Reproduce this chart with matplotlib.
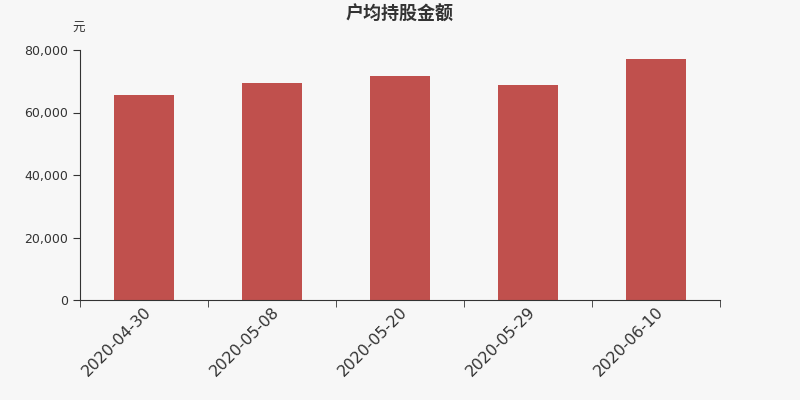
import numpy as np
import matplotlib.pyplot as plt
from matplotlib.ticker import FuncFormatter, FixedLocator

plt.rcParams['font.family'] = ['Noto Sans CJK SC', 'DejaVu Sans']

dates = ["2020-04-30", "2020-05-08", "2020-05-20", "2020-05-29", "2020-06-10"]
amounts = [65500, 69500, 71800, 68800, 77000]

bg = "#f7f7f7"
fig = plt.figure(figsize=(8, 4), dpi=100, facecolor=bg)
ax = fig.add_axes([0.1, 0.25, 0.8, 0.625], facecolor=bg)

x = np.arange(len(dates))
ax.bar(x, amounts, width=0.47, color="#c0504d")

ax.set_xlim(-0.5, len(dates) - 0.5)
ax.set_ylim(0, 80000)
ax.set_yticks([0, 20000, 40000, 60000, 80000])
ax.yaxis.set_major_formatter(FuncFormatter(lambda v, p: f"{int(v):,}"))

ax.set_xticks(x)
ax.set_xticklabels(dates, rotation=45, ha="right", rotation_mode="anchor",
                   fontsize=11.3, color="#333333", family="DejaVu Sans")
ax.xaxis.set_minor_locator(FixedLocator(np.arange(-0.5, len(dates), 1.0)))
ax.tick_params(axis="x", which="major", length=0, pad=3)
ax.tick_params(axis="x", which="minor", length=5, color="#333333")
ax.tick_params(axis="y", length=5, color="#333333", labelsize=9, labelcolor="#333333")
for lbl in ax.get_yticklabels():
    lbl.set_family("DejaVu Sans")

for s in ["top", "right"]:
    ax.spines[s].set_visible(False)
for s in ["left", "bottom"]:
    ax.spines[s].set_color("#333333")

fig.text(0.5, 0.965, "户均持股金额", ha="center", va="center", fontsize=13, fontweight="bold", color="#333333")
fig.text(0.098, 0.93, "元", ha="center", va="center", fontsize=9, color="#333333")

fig.savefig("out.png", dpi=100, facecolor=bg)
